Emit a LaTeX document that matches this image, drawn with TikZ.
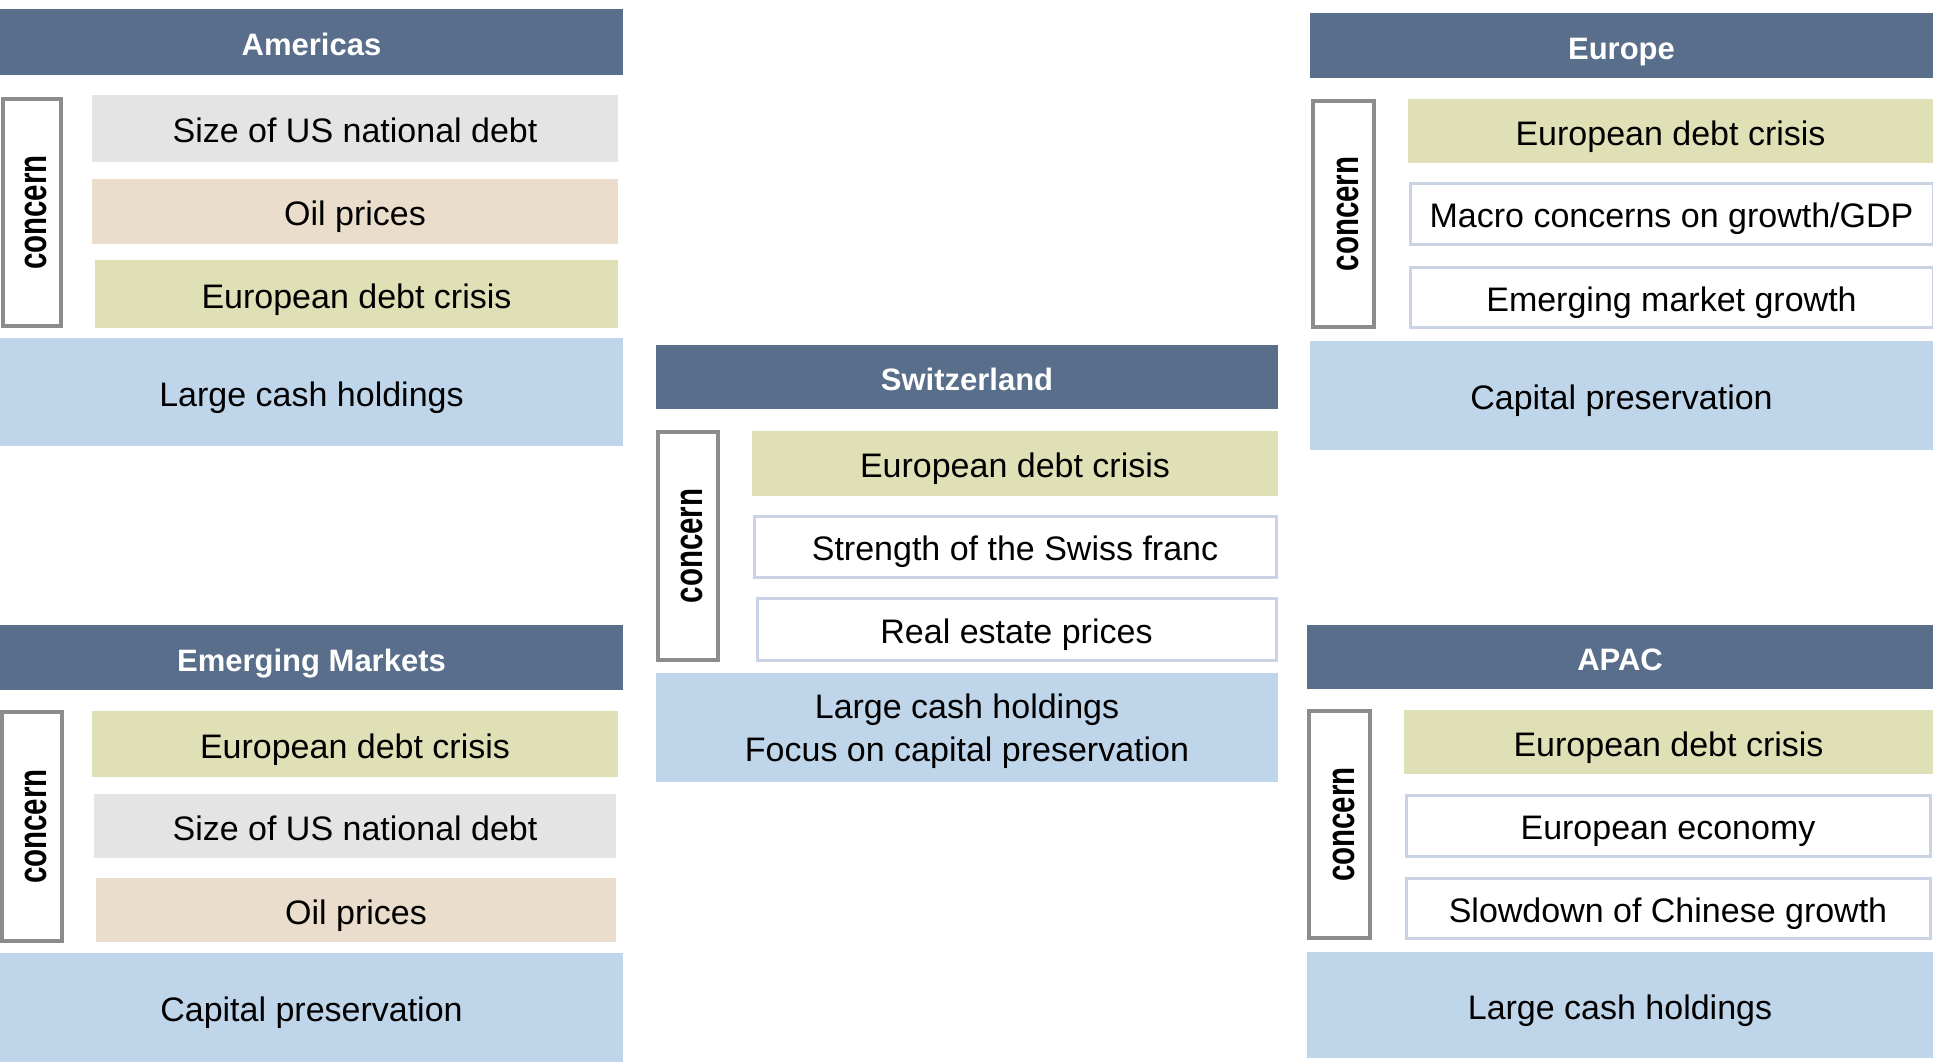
\documentclass[tikz,border=0pt]{standalone}
\usepackage{fontspec}
\setmainfont{Liberation Sans}
\usepackage{graphicx}
\definecolor{hdr}{HTML}{596E8A}
\definecolor{cgray}{HTML}{E4E4E4}
\definecolor{ctan}{HTML}{EADDCB}
\definecolor{colive}{HTML}{DFE0B5}
\definecolor{cblue}{HTML}{BFD5EA}
\definecolor{wborder}{HTML}{C9D3E3}
\definecolor{cborder}{HTML}{8C8C8C}
\newcommand\bx[7]{\node[#6, minimum width={(#4-#2)*1pt}, minimum height={(#5-#3)*1pt}] (#1) at ({(#2+#4)/2},{(#3+#5)/2}) {#7};}
\newcommand\itx[1]{\raisebox{-14.2pt}[0pt][0pt]{#1}}
\newcommand\htx[1]{\raisebox{-13.6pt}[0pt][0pt]{#1}}
\newcommand\concerntext{\rotatebox{90}{\raisebox{-14.5pt}[0pt][0pt]{\scalebox{1}[1.35]{\fontsize{29.5}{30}\selectfont\bfseries concern}}}}
\tikzset{
  base/.style={rectangle, inner sep=0pt, outer sep=0pt, align=center, text=black, font=\fontsize{34}{43}\selectfont},
  header/.style={base, fill=hdr, text=white, font=\fontsize{31}{36}\selectfont\bfseries},
  grayitem/.style={base, fill=cgray},
  tanitem/.style={base, fill=ctan},
  oliveitem/.style={base, fill=colive},
  whiteitem/.style={base, fill=white, draw=wborder, line width=3pt},
  bluebox/.style={base, fill=cblue},
  concernbox/.style={base, fill=white, draw=cborder, line width=3.5pt}
}
\begin{document}
\begin{tikzpicture}[x=1pt,y=-1pt]
\useasboundingbox[fill=white] (0,0) rectangle (1933,1062);
% Americas
\bx{amh}{0}{9}{623}{75}{header}{\htx{Americas}}
\bx{amc}{3}{99}{61}{326}{concernbox}{\concerntext}
\bx{am1}{92}{95}{618}{162}{grayitem}{\itx{Size of US national debt}}
\bx{am2}{92}{179}{618}{244}{tanitem}{\itx{Oil prices}}
\bx{am3}{95}{260}{618}{328}{oliveitem}{\itx{European debt crisis}}
\bx{amb}{0}{338}{623}{446}{bluebox}{\itx{Large cash holdings}}
% Switzerland
\bx{swh}{656}{345}{1278}{409}{header}{\htx{Switzerland}}
\bx{swc}{658}{432}{718}{660}{concernbox}{\concerntext}
\bx{sw1}{752}{431}{1278}{496}{oliveitem}{\itx{European debt crisis}}
\bx{sw2}{754}{516}{1276}{577}{whiteitem}{\itx{Strength of the Swiss franc}}
\bx{sw3}{757}{598}{1276}{660}{whiteitem}{\itx{Real estate prices}}
\bx{swb}{656}{673}{1278}{782}{bluebox}{\raisebox{-34.2pt}[0pt][0pt]{\begin{tabular}[b]{@{}c@{}}Large cash holdings\\Focus on capital preservation\end{tabular}}}
% Europe
\bx{euh}{1310}{13}{1933}{78}{header}{\htx{Europe}}
\bx{euc}{1313}{101}{1374}{327}{concernbox}{\concerntext}
\bx{eu1}{1408}{99}{1933}{163}{oliveitem}{\itx{European debt crisis}}
\bx{eu2}{1410}{183}{1933}{244}{whiteitem}{\itx{Macro concerns on growth/GDP}}
\bx{eu3}{1410}{267}{1933}{327}{whiteitem}{\itx{Emerging market growth}}
\bx{eub}{1310}{341}{1933}{450}{bluebox}{\itx{Capital preservation}}
% Emerging Markets
\bx{emh}{0}{625}{623}{690}{header}{\htx{Emerging Markets}}
\bx{emc}{2}{712}{62}{941}{concernbox}{\concerntext}
\bx{em1}{92}{711}{618}{777}{oliveitem}{\itx{European debt crisis}}
\bx{em2}{94}{794}{616}{858}{grayitem}{\itx{Size of US national debt}}
\bx{em3}{96}{878}{616}{942}{tanitem}{\itx{Oil prices}}
\bx{emb}{0}{953}{623}{1062}{bluebox}{\itx{Capital preservation}}
% APAC
\bx{aph}{1307}{625}{1933}{689}{header}{\htx{APAC}}
\bx{apc}{1309}{711}{1370}{938}{concernbox}{\concerntext}
\bx{ap1}{1404}{710}{1933}{774}{oliveitem}{\itx{European debt crisis}}
\bx{ap2}{1406}{795}{1930}{856}{whiteitem}{\itx{European economy}}
\bx{ap3}{1406}{878}{1930}{938}{whiteitem}{\itx{Slowdown of Chinese growth}}
\bx{apb}{1307}{952}{1933}{1058}{bluebox}{\itx{Large cash holdings}}
\end{tikzpicture}
\end{document}
